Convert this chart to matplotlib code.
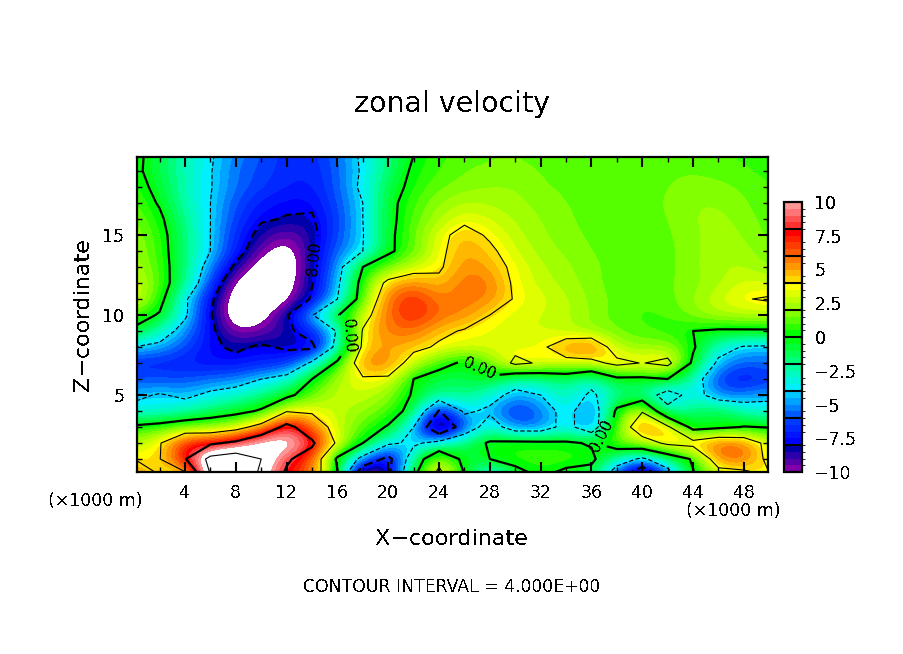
# zonal velocity section, NCAR style contour plot
import matplotlib
matplotlib.use("Agg")
import matplotlib.pyplot as plt
from matplotlib.colors import ListedColormap, BoundaryNorm
import numpy as np

# x positions in km
x_km = [0, 2, 4, 6, 8, 10, 12, 14, 16, 18, 20, 22, 24, 26, 28, 30, 32, 34, 36, 38, 40, 42, 44, 46, 48, 50]
z_km = [0, 1, 2, 3, 4, 5, 6, 7, 8, 9, 10, 11, 12, 13, 14, 15, 16, 17, 18, 19, 20]

u_z0 = [5.5, 4, 3, 12, 16.5, 11, 7.5, 6, 0.3, -11.8, -8.5, -0.5, 5, 0, -5, -1, 0.3, -0.8, -1, -6, -11.8, -5.5, -0.2, 2.5, 3, 4.1]
u_z1 = [4, 3.9, 7.8, 13, 14, 12, 8.4, 6.5, -0.5, -5, -9, -2, 3, -0.8, 0, 0.8, 1, 1, 0.5, -2.5, -4.5, -2, 0.3, 5.8, 6.2, 3.3]
u_z2 = [2.5, 3.8, 7.5, 7.5, 8.6, 11, 11.5, 8.5, 3.5, 0, -3.5, -4.5, -3, -1.5, 0.3, 0.6, 0.5, 0.3, -0.2, 1.5, 2.5, 4.6, 5, 6.5, 6, 3]
u_z3 = [0.4, 1, 1.8, 2, 3, 5, 9, 6, 2.8, 1.2, -0.2, -4, -11.8, -6, -2.5, -5.5, -5.5, -3, -6, 1.5, 6.2, 4.5, -1, -0.5, 0.1, -0.1]
u_z4 = [-3.3, -3.3, -2.5, -1.5, -0.8, 0.3, 3.8, 3.6, 2.8, 2, 1.2, -0.9, -8.2, -3.5, -4.5, -7, -5.5, -3, -6, 0.5, 3.8, -3, -1.5, -0.6, -2.6, -3.2]
u_z5 = [-4.5, -3.8, -4.5, -3.5, -2.8, -2, -0.7, 1.5, 2.8, 3, 2, -0.3, -2, -1.8, -3, -4.8, -4, -2.2, -4.5, -2, -2, -5.5, -2.8, -5.5, -5.2, -4.5]
u_z6 = [-6, -6, -6, -5.5, -5.2, -4, -3, 0, 2.5, 3.7, 3.6, 0, -1.3, -1, -0.4, -2.5, -2.2, -1.5, -3, -0.5, -0.5, 0, -2.5, -6.5, -7.5, -6.5]
u_z7 = [-7, -7, -7.2, -7.5, -7.5, -7, -6.8, -3.5, 0.5, 5.8, 5.8, 2.8, 1, -0.5, 1.5, 4.6, 3.7, 3.2, 3.2, 4.7, 3.9, 4.8, -0.5, -4.5, -5.8, -5.5]
u_z8 = [-4, -4.6, -6, -7.7, -8.3, -7.7, -8.3, -8.6, -3, 4.5, 5, 4.6, 3.7, 3.2, 3.3, 3.3, 3.5, 5.5, 6.5, 2.5, 2, 2.2, 0.3, -3, -4.2, -4.3]
u_z9 = [-0.4, -2.6, -5, -7.5, -10, -9.5, -8.5, -6.8, -3.8, 4.2, 5.8, 6, 4.5, 3.8, 3.4, 3.1, 3, 2.6, 2, 1.5, 1, 0.7, 0, -0.3, -0.3, -0.3]
u_z10 = [1, -0.2, -3.6, -7.8, -11.5, -10.8, -8.2, -4.2, -0.2, 3, 6, 7.5, 6, 5.5, 4, 3.2, 3, 2.7, 1.9, 1.2, 0.9, 1, 1.8, 2.5, 2.6, 2.8]
u_z11 = [3.5, 0.8, -3.6, -7.5, -11.3, -11.7, -10.6, -7.7, -4, 1.3, 6, 7.5, 5.5, 6, 5.5, 3.8, 3.2, 2.6, 1.9, 1.3, 1, 1.3, 2, 3, 3.9, 4.2]
u_z12 = [3.2, 1.2, -1.8, -6, -10.6, -11.7, -11, -8.1, -4.5, 1, 4.7, 5.5, 4.5, 6, 5.8, 3.6, 2.8, 2.3, 1.7, 1.2, 1.1, 1.4, 1.8, 2.3, 3.2, 3]
u_z13 = [2.5, 1.1, -1.7, -5, -8.5, -11, -11.5, -8.2, -5, 0, 1.5, 3, 3.7, 5.5, 5, 3.5, 2.6, 2.1, 1.7, 1.2, 1, 1.3, 1.9, 2.4, 2.6, 1.9]
u_z14 = [2.2, 0.9, -1.7, -4, -7, -9.6, -11, -8.3, -5.5, -4, -0.4, 1.2, 3.5, 5.2, 4.4, 3, 2.3, 1.9, 1.5, 1.2, 1, 1.3, 1.9, 2.3, 2.3, 1.5]
u_z15 = [2, 0.8, -1.8, -4, -6.8, -8.6, -9.6, -8.6, -6, -4.1, -0.5, 1.4, 3.4, 4.8, 3.7, 2.7, 2.1, 1.7, 1.4, 1.1, 1, 1.4, 1.9, 2.3, 2, 1.3]
u_z16 = [1.7, 0.4, -2, -4, -6.3, -7.8, -8.1, -8.2, -6.2, -4, -0.6, 1.2, 2.4, 3.5, 3, 2.4, 2, 1.6, 1.3, 1.1, 1.1, 1.5, 2, 2.2, 1.8, 1.2]
u_z17 = [1.3, -0.2, -2.5, -4, -6, -7.2, -7.7, -7.7, -6, -4, -0.6, 1, 2, 2.6, 2.4, 2.2, 1.8, 1.5, 1.3, 1.1, 1.2, 1.6, 2, 2, 1.6, 1.1]
u_z18 = [0.8, -0.6, -2.6, -3.9, -5.5, -6.4, -7, -7.2, -5.8, -3.5, -1, 0.6, 1.4, 1.8, 2, 2, 1.6, 1.4, 1.2, 1.1, 1.2, 1.5, 1.7, 1.7, 1.4, 1]
u_z19 = [0.5, -1, -2.6, -3.9, -5.5, -6.2, -6.8, -7, -5.8, -3.7, -1.7, 0.4, 1, 1.5, 1.7, 1.7, 1.5, 1.1, 1.4, 1.2, 1.3, 1.4, 1.5, 1.3, 1.1, 0.8]
u_z20 = [0.6, -1, -2.6, -3.8, -5.2, -6, -6.8, -6.8, -5.6, -3.6, -1.8, 0, 0.9, 1.2, 1.4, 1.5, 1.3, 1.3, 1.2, 1.1, 1.2, 1.2, 1.2, 1, 0.9, 0.7]

rows = [u_z0, u_z1, u_z2, u_z3, u_z4, u_z5, u_z6, u_z7, u_z8, u_z9, u_z10,
        u_z11, u_z12, u_z13, u_z14, u_z15, u_z16, u_z17, u_z18, u_z19, u_z20]
u = np.array(rows)

bar_ticks = [-10, -7.5, -5, -2.5, 0, 2.5, 5, 7.5, 10]

# 10 colour groups, each one 2 m/s wide and 4 shades deep
groups = [
    ((130, 0, 170), (0, 0, 170)),
    ((0, 0, 255), (0, 60, 255)),
    ((0, 90, 255), (0, 200, 255)),
    ((0, 240, 255), (0, 255, 160)),
    ((0, 255, 120), (0, 255, 20)),
    ((0, 255, 0), (130, 255, 0)),
    ((160, 255, 0), (255, 255, 0)),
    ((255, 215, 0), (255, 120, 0)),
    ((255, 90, 0), (255, 0, 0)),
    ((255, 50, 50), (255, 150, 150)),
]
shades = []
for c0, c1 in groups:
    for t in np.linspace(0, 1, 4):
        shades.append(np.clip((np.array(c0) * (1 - t) + np.array(c1) * t) / 255, 0, 1))

levels = np.arange(-10, 10.5, 0.5)
cmap = ListedColormap(shades).with_extremes(under="white", over="white")
norm = BoundaryNorm(levels, cmap.N)

plt.rcParams["font.family"] = "DejaVu Sans"
plt.rcParams["text.antialiased"] = False

W, H = 904, 654
fig = plt.figure(figsize=(W / 100, H / 100), dpi=100)
ax = fig.add_axes([137 / W, 1 - 472 / H, 631 / W, 315 / H])

# the bicubic image keeps the shaded bands smooth on this coarse grid
im = ax.imshow(u, origin="lower", aspect="auto", extent=(-1, 51, -0.5, 20.5), cmap=cmap, norm=norm,
               interpolation="bicubic", interpolation_stage="data")

thin = ax.contour(x_km, z_km, u, levels=[-12, -4, 4, 12], colors="k", linewidths=0.8)
thick = ax.contour(x_km, z_km, u, levels=[-16, -8, 0, 8, 16], colors="k", linewidths=1.6)
for cs in (thin, thick):
    cs.set_linestyles([(0, (4, 2)) if lv < 0 else "solid" for lv in cs.levels])

ax.clabel(thick, fmt=lambda v: "%.2f" % abs(v), fontsize=11, colors="k",
          manual=[(14.2, 13.5), (16.3, 8.8), (27.0, 6.5), (36.2, 3.0)])

ax.set_xlim(0.22, 49.9)
ax.set_ylim(0.19, 19.875)
ax.set_xticks(np.arange(4, 49, 4))
ax.set_xticks(np.arange(2, 50, 2), minor=True)
ax.set_yticks([5, 10, 15])
ax.set_yticks(np.arange(1, 20), minor=True)
ax.tick_params(which="major", direction="in", length=7, width=1.5, top=True, right=True, labelsize=12.5, pad=9)
ax.tick_params(which="minor", direction="in", length=3.5, width=1, top=True, right=True)
for s in ax.spines.values():
    s.set_linewidth(1.6)

# colour bar
cax = fig.add_axes([784 / W, 1 - 472 / H, 18 / W, 270 / H])
cb = fig.colorbar(im, cax=cax, extend="neither", ticks=bar_ticks)
cb.ax.set_yticklabels(["\u221210", "\u22127.5", "\u22125", "\u22122.5", "0", "2.5", "5", "7.5", "10"])
cb.ax.tick_params(length=0, labelsize=12.5, pad=9)
cb.outline.set_linewidth(1.6)
cb.ax.hlines(np.arange(-8, 10, 2), 0, 1, colors="k", linewidth=1.5, transform=cb.ax.get_yaxis_transform())

# titles and notes, placed in pixels like the plot package does
def put(px, py, s, size, **kw):
    fig.text(px / W, 1 - py / H, s, fontsize=size, ha=kw.pop("ha", "center"), va="center", **kw)

put(452, 104, "zonal velocity", 20.5)
put(452, 539, "X\u2212coordinate", 16)
put(83, 315, "Z\u2212coordinate", 16, rotation=90)
put(95, 501, "(\u00d71000 m)", 12.5)
put(733, 511, "(\u00d71000 m)", 12.5)
put(452, 587, "CONTOUR INTERVAL = 4.000E+00", 12.4)

fig.savefig("out.png", dpi=100)
